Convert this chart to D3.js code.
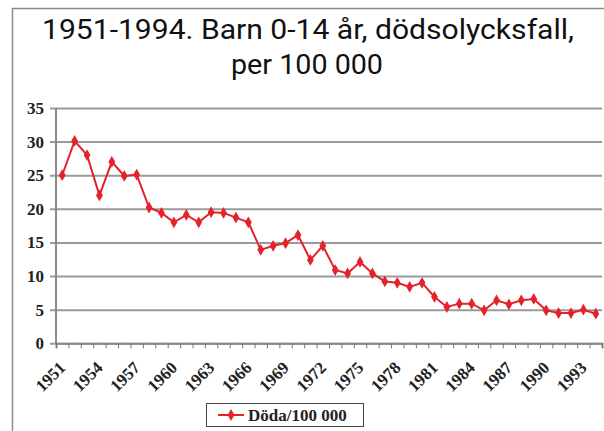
<!DOCTYPE html>
<html>
<head>
<meta charset="utf-8">
<script src="https://cdn.jsdelivr.net/npm/d3@7"></script>
<style>
  body { margin: 0; background: #fff; }
  svg { display: block; }
</style>
</head>
<body>
<div id="chart"></div>
<script>
// data
var years = d3.range(1951, 1995);
var deaths = [25.0, 30.1, 28.0, 22.0, 27.0, 24.9, 25.1, 20.2, 19.4, 18.0,
              19.1, 18.0, 19.5, 19.4, 18.7, 18.0, 13.9, 14.5, 14.9, 16.1,
              12.4, 14.5, 10.9, 10.4, 12.1, 10.4, 9.2, 9.0, 8.4, 9.0,
              6.9, 5.4, 5.9, 5.9, 4.9, 6.4, 5.8, 6.4, 6.6, 4.9,
              4.5, 4.5, 5.0, 4.4];
var yTicks = [0, 5, 10, 15, 20, 25, 30, 35];
var xLabels = [1951, 1954, 1957, 1960, 1963, 1966, 1969, 1972, 1975, 1978, 1981, 1984, 1987, 1990, 1993];
var titleLines = ["1951-1994. Barn 0-14 år, dödsolycksfall,", "per 100 000"];
var seriesName = "Döda/100 000";

var svgWidth = 604;
var svgHeight = 431;
var plot = { left: 56, right: 602, top: 108, bottom: 343.3 };
var red = "#e3222c";
var serif = "'Liberation Serif', 'Times New Roman', serif";

var svg = d3.select("#chart").append("svg")
    .attr("width", svgWidth)
    .attr("height", svgHeight);

// outer frame
svg.append("path")
    .attr("d", "M12.5," + svgHeight + "V8.5H" + svgWidth)
    .attr("fill", "none")
    .attr("stroke", "#8a8a8a")
    .attr("stroke-width", 1.5);

// title
svg.append("text")
    .attr("x", 308).attr("y", 39)
    .attr("text-anchor", "middle")
    .attr("textLength", 532)
    .attr("lengthAdjust", "spacingAndGlyphs")
    .style("font-family", "Roboto, sans-serif")
    .style("font-size", "28px")
    .attr("fill", "#111")
    .text(titleLines[0]);
svg.append("text")
    .attr("x", 307).attr("y", 74)
    .attr("text-anchor", "middle")
    .attr("textLength", 152)
    .attr("lengthAdjust", "spacingAndGlyphs")
    .style("font-family", "Roboto, sans-serif")
    .style("font-size", "28px")
    .attr("fill", "#111")
    .text(titleLines[1]);

// scales
var x = d3.scaleBand()
    .domain(years)
    .range([plot.left, plot.right])
    .padding(0);
var xEdge = d3.scaleLinear()
    .domain([0, years.length])
    .range([plot.left, plot.right]);
var y = d3.scaleLinear()
    .domain([0, 35])
    .range([plot.bottom, plot.top]);

// gridlines
var grid = svg.append("g")
    .attr("transform", "translate(50,0)")
    .call(d3.axisLeft(y).tickValues(yTicks).tickSize(-(plot.right - 50)).tickFormat(""));
grid.select(".domain").remove();
grid.selectAll("line")
    .attr("stroke", "#9a9a9a")
    .attr("stroke-width", 2);

// y axis labels
var yAxis = svg.append("g")
    .attr("transform", "translate(50,0)")
    .call(d3.axisLeft(y).tickValues(yTicks).tickSize(0).tickPadding(6));
yAxis.select(".domain").remove();
yAxis.selectAll("text")
    .style("font-family", serif)
    .style("font-weight", "bold")
    .style("font-size", "17px")
    .attr("fill", "#222");

// y axis line
svg.append("line")
    .attr("x1", plot.left).attr("x2", plot.left)
    .attr("y1", plot.top).attr("y2", plot.bottom)
    .attr("stroke", "#8a8a8a")
    .attr("stroke-width", 2);

// x axis ticks at category edges
var xAxis = svg.append("g")
    .attr("transform", "translate(0," + plot.bottom + ")")
    .call(d3.axisBottom(xEdge).tickValues(d3.range(years.length + 1)).tickSize(5).tickFormat(""));
xAxis.select(".domain").attr("stroke", "#8a8a8a").attr("stroke-width", 2);
xAxis.selectAll("line").attr("stroke", "#777");

// x labels
var xLab = svg.append("g")
    .attr("transform", "translate(0," + plot.bottom + ")")
    .call(d3.axisBottom(x).tickValues(xLabels).tickSize(0).tickFormat(d3.format("d")));
xLab.select(".domain").remove();
xLab.selectAll("text")
    .attr("text-anchor", "end")
    .attr("x", 0)
    .attr("y", 0)
    .attr("dy", "0.7em")
    .attr("transform", "translate(-4,17) rotate(-45)")
    .style("font-family", serif)
    .style("font-weight", "bold")
    .style("font-size", "17px")
    .attr("fill", "#222");

// series
var cx = function(d, i) { return x(years[i]) + x.bandwidth() / 2; };
var line = d3.line()
    .x(cx)
    .y(function(d) { return y(d); });
svg.append("path")
    .datum(deaths)
    .attr("d", line)
    .attr("fill", "none")
    .attr("stroke", red)
    .attr("stroke-width", 2);

var diamond = d3.symbol().type(d3.symbolDiamond).size(40);
svg.selectAll(".pt")
    .data(deaths)
    .enter()
    .append("path")
    .attr("class", "pt")
    .attr("d", diamond)
    .attr("transform", function(d, i) { return "translate(" + cx(d, i) + "," + y(d) + ")"; })
    .attr("fill", red);

// legend
var legend = svg.append("g").attr("transform", "translate(206,403)");
legend.append("rect")
    .attr("x", 0.5).attr("y", 0.5)
    .attr("width", 157).attr("height", 23)
    .attr("fill", "#fff")
    .attr("stroke", "#444")
    .attr("stroke-width", 1);
legend.append("line")
    .attr("x1", 12).attr("x2", 38)
    .attr("y1", 12).attr("y2", 12)
    .attr("stroke", red)
    .attr("stroke-width", 2);
legend.append("path")
    .attr("d", diamond)
    .attr("transform", "translate(25,12)")
    .attr("fill", red);
legend.append("text")
    .attr("x", 42).attr("y", 17.5)
    .style("font-family", serif)
    .style("font-weight", "bold")
    .style("font-size", "17px")
    .attr("fill", "#222")
    .text(seriesName);
</script>
</body>
</html>
